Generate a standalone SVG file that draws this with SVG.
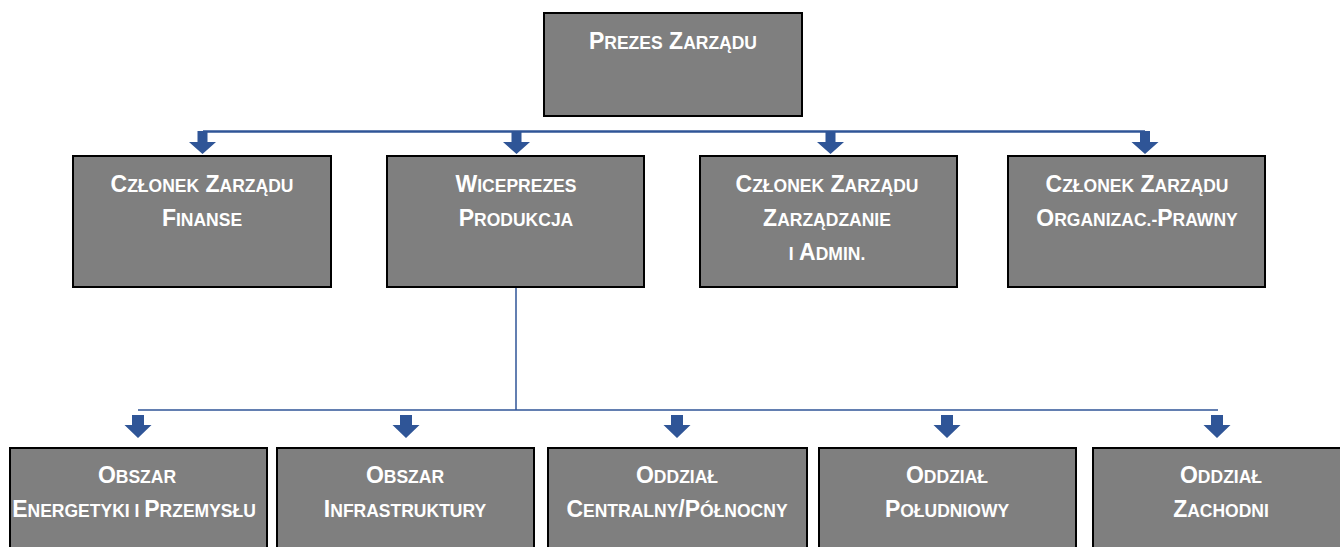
<svg xmlns="http://www.w3.org/2000/svg" width="1340" height="547" viewBox="0 0 1340 547">
<defs>
<style>
.box{fill:#7f7f7f;stroke:#000;stroke-width:2}
.t{font-family:"Liberation Sans",Arial,sans-serif;font-weight:bold;font-size:23px;fill:#fff;text-anchor:middle}
.s{font-size:17.5px}
.ln{stroke:#2f5597;fill:none}
.arr{fill:#2f5597}
</style>
<path id="a1" d="M-5,0 H5 V11 H13.5 L0,23 L-13.5,11 H-5 Z"/>
<path id="a2" d="M-6,0 H6 V10 H13.5 L0,23 L-13.5,10 H-6 Z"/>
</defs>
<rect width="1340" height="547" fill="#fff"/>
<g id="connectors">
<line class="ln" x1="203" y1="131.5" x2="1145" y2="131.5" stroke-width="2.5"/>
<line class="ln" x1="516" y1="287" x2="516" y2="410" stroke-width="1.5"/>
<line class="ln" x1="138" y1="410" x2="1218" y2="410" stroke-width="1.5"/>
<use href="#a1" class="arr" x="202.5" y="131"/>
<use href="#a1" class="arr" x="516.5" y="131"/>
<use href="#a1" class="arr" x="830.5" y="131"/>
<use href="#a1" class="arr" x="1145" y="131"/>
<use href="#a2" class="arr" x="138" y="415"/>
<use href="#a2" class="arr" x="406" y="415"/>
<use href="#a2" class="arr" x="677" y="415"/>
<use href="#a2" class="arr" x="947" y="415"/>
<use href="#a2" class="arr" x="1217" y="415"/>
</g>
<g id="prezes">
<rect class="box" x="544" y="13" width="258" height="103"/>
<text class="t" x="673" y="49">P<tspan class="s">REZES</tspan> Z<tspan class="s">ARZĄDU</tspan></text>
</g>
<g id="finanse">
<rect class="box" x="73" y="156" width="258" height="131"/>
<text class="t" x="202" y="192">C<tspan class="s">ZŁONEK</tspan> Z<tspan class="s">ARZĄDU</tspan></text>
<text class="t" x="202" y="226">F<tspan class="s">INANSE</tspan></text>
</g>
<g id="wiceprezes">
<rect class="box" x="387" y="156" width="257" height="131"/>
<text class="t" x="516" y="192">W<tspan class="s">ICEPREZES</tspan></text>
<text class="t" x="516" y="226">P<tspan class="s">RODUKCJA</tspan></text>
</g>
<g id="zarzadzanie">
<rect class="box" x="700" y="156" width="257" height="131"/>
<text class="t" x="827" y="192">C<tspan class="s">ZŁONEK</tspan> Z<tspan class="s">ARZĄDU</tspan></text>
<text class="t" x="827" y="226">Z<tspan class="s">ARZĄDZANIE</tspan></text>
<text class="t" x="827" y="260"><tspan class="s">I</tspan> A<tspan class="s">DMIN.</tspan></text>
</g>
<g id="prawny">
<rect class="box" x="1008" y="156" width="257" height="131"/>
<text class="t" x="1137" y="192">C<tspan class="s">ZŁONEK</tspan> Z<tspan class="s">ARZĄDU</tspan></text>
<text class="t" x="1137" y="226">O<tspan class="s">RGANIZAC.-</tspan>P<tspan class="s">RAWNY</tspan></text>
</g>
<g id="energetyka">
<rect class="box" x="10" y="448" width="257" height="110"/>
<text class="t" x="137" y="483">O<tspan class="s">BSZAR</tspan></text>
<text class="t" x="134" y="517">E<tspan class="s">NERGETYKI I </tspan>P<tspan class="s">RZEMYSŁU</tspan></text>
</g>
<g id="infrastruktura">
<rect class="box" x="277" y="448" width="257" height="110"/>
<text class="t" x="405" y="483">O<tspan class="s">BSZAR</tspan></text>
<text class="t" x="405" y="517">I<tspan class="s">NFRASTRUKTURY</tspan></text>
</g>
<g id="centralny">
<rect class="box" x="548" y="448" width="259" height="110"/>
<text class="t" x="677" y="483">O<tspan class="s">DDZIAŁ</tspan></text>
<text class="t" x="677" y="517">C<tspan class="s">ENTRALNY</tspan>/P<tspan class="s">ÓŁNOCNY</tspan></text>
</g>
<g id="poludniowy">
<rect class="box" x="819" y="448" width="257" height="110"/>
<text class="t" x="947" y="483">O<tspan class="s">DDZIAŁ</tspan></text>
<text class="t" x="947" y="517">P<tspan class="s">OŁUDNIOWY</tspan></text>
</g>
<g id="zachodni">
<rect class="box" x="1093" y="448" width="260" height="110"/>
<text class="t" x="1221" y="483">O<tspan class="s">DDZIAŁ</tspan></text>
<text class="t" x="1221" y="517">Z<tspan class="s">ACHODNI</tspan></text>
</g>
</svg>
